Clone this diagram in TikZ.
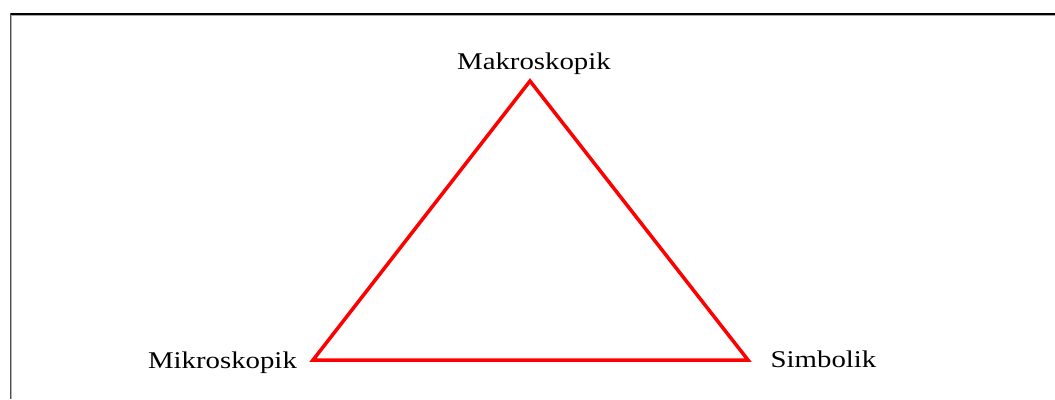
\documentclass[tikz,border=0pt]{standalone}
\usepackage{fontspec}
\setmainfont{Liberation Serif}
\newfontfamily\labfont[FakeStretch=1.2]{Liberation Serif}
\begin{document}
\begin{tikzpicture}[x=1pt,y=-1pt,
  lab/.style={anchor=base,inner sep=0pt,font=\labfont\fontsize{24}{28}\selectfont},
  edge/.style={draw=red,line width=3.5pt,line join=miter}]
\useasboundingbox (0,0) rectangle (1055,399);
\fill[white] (0,0) rectangle (1055,399);
% frame
\draw[black,line width=1.6pt] (10,13.8) -- (1055,13.8);
\draw[gray!70,line width=0.8pt] (11,15.5) -- (1055,15.5);
\draw[black!70,line width=1.2pt] (10.3,13) -- (10.3,399);
\draw[gray!60,line width=0.8pt] (11.6,15.5) -- (11.6,399);
% vertices
\coordinate (top) at (530,81);
\coordinate (left) at (313,360);
\coordinate (right) at (748,360);
\draw[edge] (top) -- (right) -- (left) -- cycle;
% labels
\node[lab] (makro) at (534,69.5) {Makroskopik};
\node[lab] (mikro) at (222.5,368.5) {Mikroskopik};
\node[lab] (simb) at (823.5,367.5) {Simbolik};
\end{tikzpicture}
\end{document}
